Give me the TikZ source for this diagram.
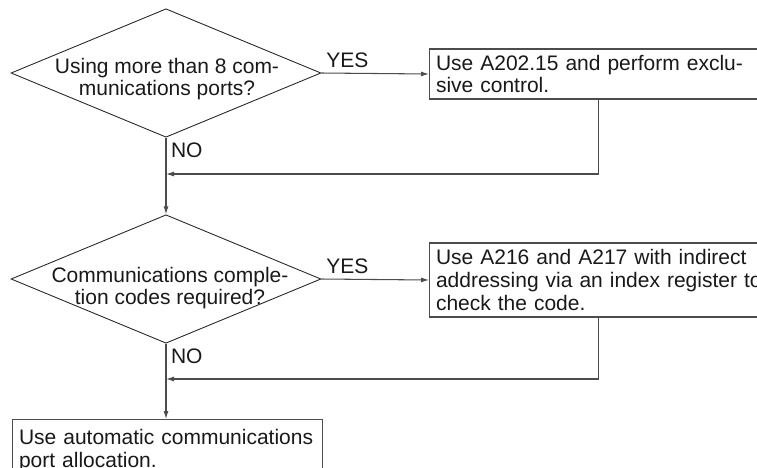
\documentclass[tikz,border=0pt]{standalone}
\usepackage{fontspec}
\setmainfont{Liberation Sans}
\usetikzlibrary{shapes.geometric,arrows.meta}
\begin{document}
\begin{tikzpicture}[x=0.02cm, y=-0.02cm,
  every node/.style={font=\fontsize{11.95}{12.9}\selectfont, text=black!90},
  decision/.style={diamond, draw=black!85, line width=0.5pt, minimum width=6.2cm, minimum height=2.57cm, inner sep=0pt},
  qtext/.style={align=center, inner sep=0pt},
  action/.style={rectangle, draw=black!70, line width=0.6pt, align=left, anchor=west, inner xsep=0.13cm, inner ysep=0.1cm},
  flow/.style={draw=black!70, line width=0.6pt, -{Latex[length=0.16cm, width=0.1cm]}},
  answer/.style={inner sep=0.09cm}]
\clip (0,0) rectangle (757,467);
\node[decision] (q1) at (166,73) {};
\node[qtext] (q1t) at (167,79) {Using more than 8 com-\\munications ports?};
\node[action, minimum height=1cm, text width=6.5cm] (b1) at (429,74) {Use A202.15 and perform exclu-\\sive control.};
\node[decision] (q2) at (166,279) {};
\node[qtext] (q2t) at (170,288) {Communications comple-\\tion codes required?};
\node[action, minimum height=1.48cm, text width=6.5cm] (b2) at (429,280) {Use A216 and A217 with indirect\\\mbox{addressing via an index register to}\\check the code.};
\node[action, anchor=north west, inner ysep=0.2cm, text width=5.94cm] (b3) at (12,419) {Use automatic communications\\port allocation.};
\coordinate (j1) at (166,174);
\coordinate (j2) at (166,379);
\draw[flow] (q1.east) -- (b1.west) node[answer, pos=0, above right] {YES};
\draw[flow] (q1.south) -- (q2.north) node[answer, pos=0, below right] {NO};
\draw[flow] (b1.south) |- (j1);
\draw[flow] (q2.east) -- (b2.west) node[answer, pos=0, above right] {YES};
\draw[flow] (q2.south) -- (q2.south |- b3.north) node[answer, pos=0, below right] {NO};
\draw[flow] (b2.south) |- (j2);
\end{tikzpicture}
\end{document}
